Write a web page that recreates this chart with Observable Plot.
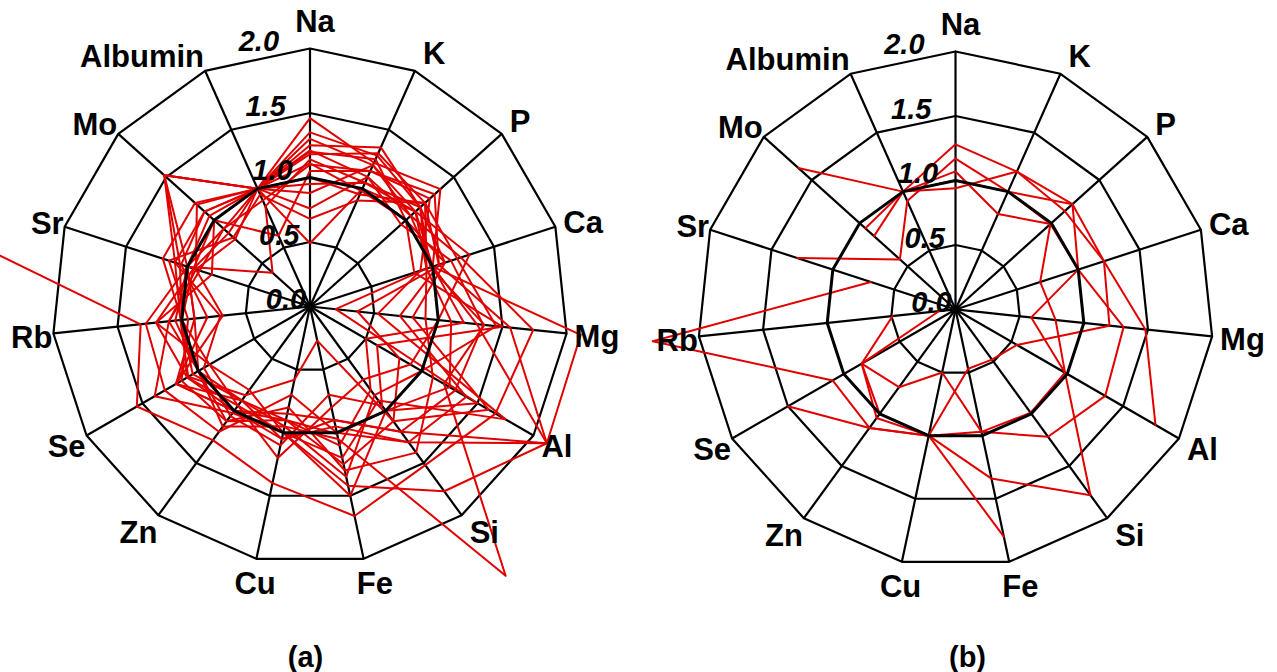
<!DOCTYPE html>
<html><head><meta charset="utf-8">
<script src="https://cdn.jsdelivr.net/npm/d3@7"></script>
<script src="https://cdn.jsdelivr.net/npm/@observablehq/plot@0.6"></script>
<style>body{margin:0;background:#fff;overflow:hidden} svg{display:block}</style>
</head><body><div id="chart"></div>
<script>
// ---- data ----
const axes = ["Na","K","P","Ca","Mg","Al","Si","Fe","Cu","Zn","Se","Rb","Sr","Mo","Albumin"];
const ringValues = [0.5, 1.0, 1.5, 2.0];
const tickValues = [0.0, 0.5, 1.0, 1.5, 2.0];
const tickLabels = ["0.0","0.5","1.0","1.5","2.0"];
const panelLabels = ["(a)", "(b)"];

// chart (a): one row per sample, values in axis order
const chartA = [
  [1.46, 1.22, 1.36, 1.00, 2.11, 2.12, 1.20, 0.90, 0.85, 1.00, 1.10, 1.00, 1.06, 1.52, 1.00],
  [1.35, 1.28, 1.15, 0.98, 1.36, 1.20, 2.58, 1.05, 0.95, 0.90, 1.20, 0.68, 0.93, 1.18, 1.00],
  [1.21, 1.10, 1.05, 1.23, 1.74, 1.66, 1.52, 1.66, 1.40, 1.28, 1.55, 1.32, 5.00, null, 1.00],
  [1.18, 1.30, 1.20, 1.05, 1.56, 2.12, 1.77, 1.42, 1.00, 1.02, 1.39, 1.10, 0.93, 0.78, 1.00],
  [1.14, 1.05, 1.10, 0.95, 0.20, 1.50, 1.00, 1.01, 0.90, 1.10, 1.00, 0.90, 1.00, 0.39, 0.85],
  [1.11, 0.98, 1.00, 1.10, 0.37, 0.80, 1.10, 0.27, 0.58, 0.85, 1.09, 1.01, 1.10, 1.52, 1.00],
  [1.05, 1.15, 1.25, 0.90, 0.53, 1.75, 0.90, 1.20, 1.00, 0.95, 0.90, 1.20, 0.95, 1.00, 0.60],
  [0.88, 1.20, 1.10, 1.00, 1.20, 0.50, 0.80, 1.10, 0.90, 1.00, 1.20, 0.80, 1.05, 1.10, 1.00],
  [0.76, 1.10, 0.95, 1.15, 1.35, 1.30, 1.20, 0.90, 1.05, 0.90, 1.00, 1.10, 0.90, 0.90, 1.00],
  [0.68, 0.90, 1.20, 0.95, 0.90, 1.10, 1.40, 1.30, 0.80, 1.10, 1.15, 0.95, 1.15, 0.80, 0.95],
  [0.49, 1.00, 1.10, 1.30, 1.00, 0.90, 0.70, 0.80, 1.20, 0.95, 1.10, 1.20, 0.80, 1.00, 1.00],
  [1.25, 1.35, 1.15, 0.95, 1.10, 1.25, 1.00, 1.50, 1.00, 0.80, 0.90, 1.00, 1.20, 1.20, 1.00],
  [1.10, 1.15, 1.30, 1.05, 0.70, 1.40, 1.30, 1.00, 0.70, 1.20, 1.30, 1.28, 1.00, 0.90, 0.90],
  [1.20, 1.25, 1.00, 0.85, 1.50, 0.60, 0.95, 0.70, 1.10, 1.05, 0.95, 0.70, 1.10, 1.10, 1.00],
  [0.95, 1.05, 1.15, 1.10, 0.80, 1.60, 1.10, 1.25, 0.90, 0.90, 1.05, 1.00, 0.95, 0.85, 1.00],
  [1.30, 1.20, 1.05, 1.00, 1.30, 2.12, 1.30, 0.95, 1.05, 1.00, 1.20, 0.90, 1.00, 1.05, 1.00],
  [1.00, 0.95, 1.20, 1.20, 1.45, 1.00, 0.85, 1.35, 0.95, 1.15, 1.00, 1.05, 1.00, 1.52, 1.00]
];

// chart (b)
const chartB = [
  [1.28, 1.17, 1.14, 1.21, 1.48, 1.79, null, 1.80, 1.00, 1.04, 0.84, 0.13, null, 0.94, 1.00],
  [1.17, 1.00, 1.22, 1.00, 1.31, 1.34, 1.22, 0.97, 1.00, 1.135, 1.50, null, 1.29, 0.58, 0.92],
  [1.07, 0.81, 0.99, 0.69, 0.78, 0.98, 1.78, 1.34, 1.00, 1.135, 1.10, 2.36, 0.69, null, 1.00],
  [0.94, 1.17, 1.22, 1.21, 1.20, 0.55, 0.48, 0.47, 1.00, 1.00, 0.84, 0.49, null, 0.85, 1.00],
  [1.00, 1.00, 0.99, 1.00, 0.59, 0.98, 0.99, 0.97, 0.50, 0.745, 0.84, null, null, 1.64, 1.00]
];

// ---- layout ----
const W = 1277, H = 672, unit = 129;          // px per value unit
const x0 = -309.5 / unit, y0 = 306 / unit;    // domain offsets
const centers = [[0, 0], [5.004, -0.023]];
const captionX = [-0.035, 5.097], captionY = -2.72;
const n = axes.length;
const ang = i => i * 2 * Math.PI / n;
const polar = (c, i, v) => ({
  x: centers[c][0] + v * Math.sin(ang(i)),
  y: centers[c][1] + v * Math.cos(ang(i))
});

const charts = [chartA, chartB];

// grid rings
const rings = [];
for (let c = 0; c < 2; c++)
  for (const r of ringValues)
    for (let i = 0; i <= n; i++) rings.push({c, r, ...polar(c, i % n, r)});

// spokes
const spokes = [];
for (let c = 0; c < 2; c++)
  for (let i = 0; i < n; i++) {
    const e = polar(c, i, 2.0);
    spokes.push({x1: centers[c][0], y1: centers[c][1], x2: e.x, y2: e.y});
  }

// sample lines
const lines = [];
charts.forEach((rows, c) => rows.forEach((vals, s) => {
  for (let i = 0; i <= n; i++) {
    const v = vals[i % n];
    if (v == null) lines.push({c, s, x: NaN, y: NaN});
    else lines.push({c, s, ...polar(c, i % n, v)});
  }
}));

// axis labels
const labels = [];
for (let c = 0; c < 2; c++)
  axes.forEach((name, i) => {
    const e = polar(c, i, 2.0);
    const s = Math.sin(ang(i)), co = Math.cos(ang(i));
    const anchor = Math.abs(s) < 0.25 ? "middle" : (s > 0 ? "start" : "end");
    const dxp = anchor === "middle" ? 5 + 30 * s : (anchor === "start" ? 8 : -1);
    const dyp = anchor === "middle" ? -26 * co : (anchor === "start" ? -20 * co + 2 : -18 * co + 3);
    labels.push({name, anchor, x: e.x + dxp / unit, y: e.y - dyp / unit});
  });

// tick labels
const ticks = [];
for (let c = 0; c < 2; c++)
  tickValues.forEach((v, k) => ticks.push({
    t: tickLabels[k],
    x: centers[c][0] - 0.03 - 0.105 * v,
    y: centers[c][1] + v + 0.05
  }));

const font = "'Liberation Sans', Arial, sans-serif";
const textCommon = {fontFamily: font, fontWeight: "bold", fill: "black"};

const plot = Plot.plot({
  width: W, height: H,
  margin: 0,
  x: {domain: [x0, x0 + W / unit], axis: null},
  y: {domain: [y0 - H / unit, y0], axis: null},
  marks: [
    Plot.line(rings.filter(d => d.r !== 1.0), {x: "x", y: "y", z: d => d.c + "-" + d.r, stroke: "black", strokeWidth: 2.2}),
    Plot.link(spokes, {x1: "x1", y1: "y1", x2: "x2", y2: "y2", stroke: "black", strokeWidth: 2.2}),
    Plot.line(lines, {x: "x", y: "y", z: d => d.c + "-" + d.s, stroke: "#e00000", strokeWidth: 2, clip: true}),
    Plot.line(rings.filter(d => d.r === 1.0), {x: "x", y: "y", z: d => d.c + "-" + d.r, stroke: "black", strokeWidth: 3}),
    Plot.dot(centers, {x: d => d[0], y: d => d[1], r: 3, fill: "black"}),
    ...["start", "middle", "end"].map(a =>
      Plot.text(labels.filter(d => d.anchor === a), {x: "x", y: "y", text: "name", textAnchor: a, fontSize: 31, ...textCommon})),
    Plot.text(ticks, {x: "x", y: "y", text: "t", textAnchor: "end", fontSize: 29, fontStyle: "italic", ...textCommon}),
    Plot.text(panelLabels, {x: (d, i) => captionX[i], y: captionY, text: d => d, fontSize: 29, ...textCommon})
  ]
});
document.getElementById("chart").appendChild(plot);
</script>
</body></html>
